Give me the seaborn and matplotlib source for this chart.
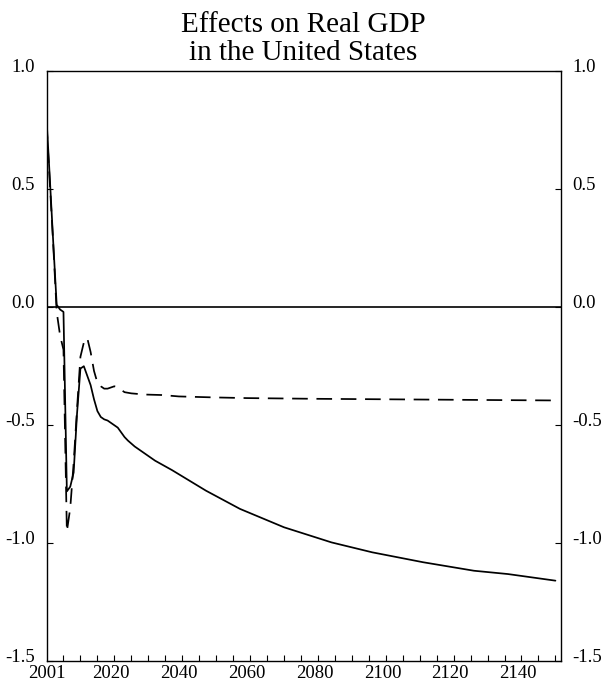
import numpy as np
import pandas as pd
import matplotlib
matplotlib.use("Agg")
import matplotlib.pyplot as plt
import matplotlib.transforms as mtransforms
import seaborn as sns

# ==========================================
# DATA
# ==========================================
solid_years = [2001, 2002, 2003, 2004, 2005, 2006, 2007, 2008, 2009, 2010,
               2011, 2012, 2013, 2014, 2015, 2016, 2017, 2018, 2019, 2020,
               2021, 2022, 2023, 2024, 2025, 2027, 2029, 2033, 2038, 2048,
               2058, 2071, 2085, 2097, 2112, 2127, 2137, 2151]
solid_vals = [0.80, 0.54, 0.27, 0.01, -0.01, -0.02, -0.78, -0.76, -0.70, -0.45,
              -0.26, -0.25, -0.29, -0.33, -0.39, -0.44, -0.465, -0.475, -0.48, -0.49,
              -0.50, -0.51, -0.53, -0.55, -0.565, -0.59, -0.61, -0.65, -0.69, -0.777,
              -0.854, -0.932, -0.996, -1.038, -1.08, -1.116, -1.13, -1.158]

dashed_years = [2001, 2002, 2003, 2004, 2005, 2006, 2007, 2008, 2009, 2010,
                2011, 2012, 2013, 2014, 2015, 2016, 2017, 2018, 2019, 2020,
                2021, 2022, 2023, 2024, 2026, 2030, 2035, 2040, 2050, 2060,
                2080, 2100, 2120, 2140, 2151]
dashed_vals = [0.78, 0.52, 0.26, -0.02, -0.12, -0.18, -0.95, -0.85, -0.66, -0.43,
               -0.21, -0.15, -0.13, -0.19, -0.27, -0.32, -0.335, -0.345, -0.345, -0.34,
               -0.335, -0.34, -0.35, -0.36, -0.365, -0.37, -0.372, -0.378, -0.382, -0.385,
               -0.388, -0.39, -0.392, -0.394, -0.395]

x_label_years = [2001, 2020, 2040, 2060, 2080, 2100, 2120, 2140]
y_ticks = [-1.5, -1.0, -0.5, 0.0, 0.5, 1.0]

title = "Effects on Real GDP\nin the United States"

# ==========================================
# PLOT
# ==========================================
sns.set_theme(style="white")
plt.rcParams['font.family'] = ['Liberation Serif', 'DejaVu Serif']

fig = plt.figure(figsize=(6.04, 6.89), dpi=100)
ax = fig.add_axes([0.077, 0.040, 0.851, 0.857])

solid_df = pd.DataFrame({'year': solid_years, 'value': solid_vals})
dashed_df = pd.DataFrame({'year': dashed_years, 'value': dashed_vals})

ax.axhline(0.0, color='black', linewidth=1.2)
sns.lineplot(x='year', y='value', data=solid_df, ax=ax, color='black',
             linewidth=1.25, estimator=None, sort=False)
sns.lineplot(x='year', y='value', data=dashed_df, ax=ax, color='black',
             linewidth=1.25, estimator=None, sort=False, dashes=False,
             linestyle=(0, (9, 5)))

ax.set_xlim(2001, 2152.5)
ax.set_ylim(-1.5, 1.0)
ax.set_xlabel('')
ax.set_ylabel('')

for s in ax.spines.values():
    s.set_color('black')
    s.set_linewidth(1.0)

ax.set_xticks(x_label_years)
ax.set_xticklabels([str(y) for y in x_label_years])
ax.set_xticks(np.arange(2001, 2152, 5), minor=True)
ax.tick_params(axis='x', which='major', length=0, pad=2.5, labelsize=13.5, colors='black')
ax.tick_params(axis='x', which='minor', direction='in', length=4, width=0.8,
               bottom=True, top=False, colors='black')

ax.set_yticks(y_ticks)
ax.set_yticklabels([f"{v:.1f}" for v in y_ticks])
ax.tick_params(axis='y', which='major', direction='in', length=4, width=0.8,
               left=True, right=True, labelleft=True, labelright=True,
               pad=8.5, labelsize=13.5, colors='black')

# y labels in the reference sit a little above their ticks
shift = mtransforms.ScaledTranslation(0, 4 / 72, fig.dpi_scale_trans)
for t in ax.yaxis.get_major_ticks():
    t.label1.set_transform(t.label1.get_transform() + shift)
    t.label2.set_transform(t.label2.get_transform() + shift)

ax.set_title(title, fontsize=21, pad=8, linespacing=1.1, color='black')

plt.savefig('out.png', dpi=100)
print("Saved out.png")
